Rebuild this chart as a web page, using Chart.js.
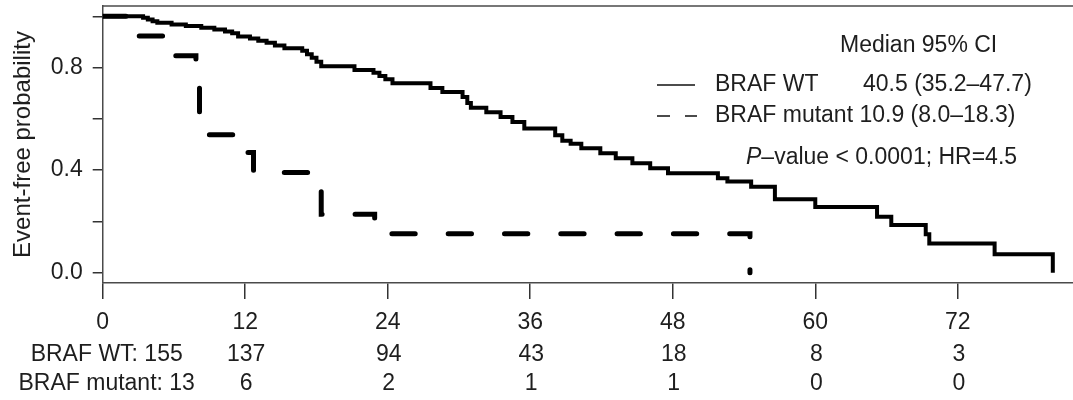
<!DOCTYPE html>
<html><head><meta charset="utf-8">
<script src="https://cdn.jsdelivr.net/npm/chart.js@4.4.1/dist/chart.umd.min.js"></script>
<style>html,body{margin:0;padding:0;background:#fff;}#wrap{width:1073px;height:400px;}</style>
</head><body><div id="wrap"><canvas id="c" width="1073" height="400"></canvas></div>
<script>
// ---- data ----
const wtTimes = [0,3.4,3.8,4.2,4.6,5.8,7.0,8.3,9.4,10.3,10.9,11.4,12.4,13.1,13.8,14.5,15.3,16.8,17.2,17.6,18.0,18.4,21.2,22.8,23.3,23.8,24.4,27.6,28.6,30.3,30.7,31.0,32.3,33.5,34.5,35.5,38.1,38.7,39.4,40.3,41.9,43.2,44.6,46.1,47.6,51.8,52.6,54.6,56.6,60.0,65.2,66.4,69.3,69.6,75.1,80.0];
const wtSurv  = [1.0,0.994,0.987,0.981,0.975,0.968,0.962,0.955,0.948,0.941,0.934,0.921,0.913,0.905,0.897,0.886,0.875,0.866,0.852,0.838,0.823,0.805,0.79,0.78,0.767,0.754,0.739,0.72,0.705,0.685,0.662,0.643,0.626,0.607,0.588,0.562,0.536,0.515,0.503,0.485,0.466,0.446,0.427,0.407,0.388,0.368,0.356,0.335,0.287,0.256,0.218,0.186,0.15,0.114,0.072,0.0];
const mutTimes = [0,2.6,5.6,7.85,8.15,11.6,12.7,17.6,18.4,22.9,54.5];
const mutSurv  = [1.0,0.923,0.846,0.72,0.538,0.469,0.391,0.32,0.228,0.152,0.0];
const xTicks = [0,12,24,36,48,60,72];
const yTicks = [0,0.2,0.4,0.6,0.8,1.0];
const yLabelled = [0,0.4,0.8];
const riskWT  = [155,137,94,43,18,8,3];
const riskMut = [13,6,2,1,1,0,0];
const groupNames = ['BRAF WT','BRAF mutant'];
const medianText = ['40.5 (35.2\u201347.7)','10.9 (8.0\u201318.3)'];
const statsText = ['P','\u2013value < 0.0001; HR=4.5'];
const legendHeader = 'Median 95% CI';
const yTitle = 'Event-free probability';

const FONT = 'Liberation Sans, Arial, Helvetica, sans-serif';
const TXT = '#1e1e1e';
const FS = 23;

const toPts = (t, s) => t.map((v, i) => ({x: v, y: s[i]}));
const noPad = s => { s.paddingTop = 0; s.paddingBottom = 0; s.paddingLeft = 0; s.paddingRight = 0; };

const annot = {
  id: 'annot',
  afterDraw(chart) {
    const {ctx, chartArea, scales} = chart;
    const xs = scales.x;
    ctx.save();
    ctx.strokeStyle = '#4a4a4a'; ctx.lineWidth = 1.5;
    ctx.beginPath(); ctx.moveTo(chartArea.left, chartArea.top); ctx.lineTo(chartArea.right, chartArea.top); ctx.stroke();
    ctx.fillStyle = TXT;
    ctx.font = FS + 'px ' + FONT;
    ctx.textBaseline = 'middle';
    ctx.textAlign = 'center';
    xTicks.forEach((t, i) => {
      const x = xs.getPixelForValue(t);
      const a = i === 0 ? groupNames[0] + ': ' + riskWT[i] : String(riskWT[i]);
      const b = i === 0 ? groupNames[1] + ': ' + riskMut[i] : String(riskMut[i]);
      const dx = i === 0 ? 4 : 1;
      ctx.fillText(a, x + dx, 355);
      ctx.fillText(b, x + dx, 384);
    });
    ctx.textAlign = 'left';
    ctx.fillText(legendHeader, 840, 46);
    ctx.fillText(groupNames[0], 715, 85);
    ctx.fillText(medianText[0], 863, 85);
    ctx.fillText(groupNames[1] + ' ' + medianText[1], 715, 116);
    ctx.strokeStyle = '#111'; ctx.lineWidth = 1.6;
    ctx.beginPath(); ctx.moveTo(657, 85); ctx.lineTo(695, 85); ctx.stroke();
    ctx.setLineDash([13, 15]);
    ctx.beginPath(); ctx.moveTo(657, 116); ctx.lineTo(697, 116); ctx.stroke();
    ctx.setLineDash([]);
    ctx.font = 'italic ' + FS + 'px ' + FONT;
    ctx.fillText(statsText[0], 746, 158);
    const w = ctx.measureText(statsText[0]).width;
    ctx.font = FS + 'px ' + FONT;
    ctx.fillText(statsText[1], 746 + w, 158);
    ctx.restore();
  }
};

new Chart(document.getElementById('c'), {
  type: 'line',
  data: {
    datasets: [
      { label: groupNames[1], data: toPts(mutTimes, mutSurv), borderColor: '#000', borderWidth: 5,
        borderDash: [23.3, 33], borderCapStyle: 'round', stepped: true, pointRadius: 0, fill: false },
      { label: groupNames[0], data: toPts(wtTimes, wtSurv), borderColor: '#000', borderWidth: 4,
        borderJoinStyle: 'miter', stepped: true, pointRadius: 0, fill: false }
    ]
  },
  options: {
    responsive: false, animation: false, devicePixelRatio: 1,
    layout: { padding: { left: 0, right: 0, top: 6, bottom: 0 } },
    plugins: { legend: { display: false }, tooltip: { enabled: false } },
    scales: {
      x: {
        type: 'linear', min: 0, max: 81.7,
        afterBuildTicks: s => { s.ticks = xTicks.map(v => ({value: v})); },
        afterFit: s => { s.height = 117; noPad(s); },
        grid: { drawOnChartArea: false, drawTicks: true, tickLength: 16, color: '#333', lineWidth: 1.5 },
        border: { display: true, color: '#4a4a4a', width: 1.5 },
        ticks: { color: TXT, font: { family: FONT, size: FS }, padding: 10, maxRotation: 0, autoSkip: false,
          callback: v => String(v) }
      },
      y: {
        type: 'linear', min: -0.04, max: 1.04,
        afterBuildTicks: s => { s.ticks = yTicks.map(v => ({value: v})); },
        afterFit: s => { s.width = 102.7; noPad(s); },
        grid: { drawOnChartArea: false, drawTicks: true, tickLength: 10, color: '#333', lineWidth: 1.5 },
        border: { display: true, color: '#4a4a4a', width: 1.5 },
        ticks: { color: TXT, font: { family: FONT, size: FS }, padding: 10, autoSkip: false,
          callback: v => yLabelled.some(u => Math.abs(u - v) < 1e-9) ? v.toFixed(1) : '' },
        title: { display: true, text: yTitle, color: TXT, font: { family: FONT, size: 24 }, padding: { top: 9, bottom: 0 } }
      }
    }
  },
  plugins: [annot]
});
</script>
</body></html>
